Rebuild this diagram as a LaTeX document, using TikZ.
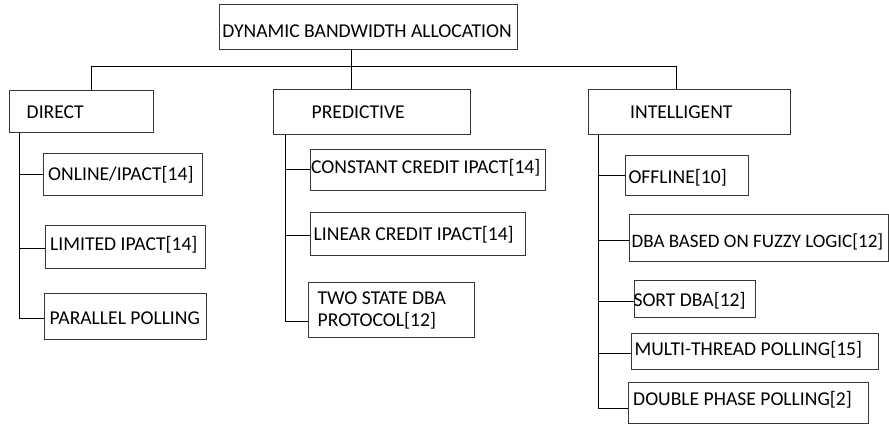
\documentclass[tikz,border=0pt]{standalone}
\usepackage{fontspec}
\setmainfont{Carlito}
\begin{document}
\begin{tikzpicture}[x=1pt,y=-1pt,
  box/.style={draw=black!78, line width=1pt, rectangle, inner sep=0pt},
  lbl/.style={anchor=base west, inner sep=0pt, text=black,
    font=\fontsize{19.6}{22.7}\selectfont, align=left},
  link/.style={draw=black, line width=1pt}]
\useasboundingbox (0,0) rectangle (889,425);

% boxes: \boxat{name}{x1}{y1}{x2}{y2}
\newcommand\boxat[5]{%
  \node[box, minimum width={#4-#2}, minimum height={#5-#3}]
    (#1) at ({(#2+#4)/2},{(#3+#5)/2}) {};}

\boxat{root}{219.3}{4.7}{517.7}{49.7}
\boxat{direct}{9.3}{90.3}{153.3}{132.7}
\boxat{pred}{273.7}{89.3}{470.7}{135}
\boxat{intel}{588.3}{89.3}{790.3}{135}

\boxat{online}{43.3}{153.3}{202.7}{195.7}
\boxat{limited}{45.7}{225.3}{205.3}{268}
\boxat{parallel}{44.3}{293.3}{206.3}{339}

\boxat{constant}{310}{150}{545.3}{190.7}
\boxat{linear}{310}{212.3}{525}{255.7}
\boxat{twostate}{308.7}{282.3}{474}{337.7}

\boxat{offline}{625.7}{155.7}{748}{195.7}
\boxat{fuzzy}{629.3}{214.3}{888}{261.7}
\boxat{sortdba}{634}{280}{755.3}{317.7}
\boxat{multi}{631.7}{333.3}{878.3}{369.3}
\boxat{double}{628.3}{382.7}{868.3}{423.3}

% labels
\node[lbl] (troot) at (222.2,37.3) {DYNAMIC BANDWIDTH ALLOCATION};
\node[lbl] (tdirect) at (26.5,119) {DIRECT};
\node[lbl] (tpred) at (311.5,119) {PREDICTIVE};
\node[lbl] (tintel) at (630,118.3) {INTELLIGENT};

\node[lbl] (tonline) at (48,181) {ONLINE/IPACT[14]};
\node[lbl] (tlimited) at (50,250) {LIMITED IPACT[14]};
\node[lbl] (tparallel) at (49.5,324.3) {PARALLEL POLLING};

\node[lbl] (tconstant) at (311,174) {CONSTANT CREDIT IPACT[14]};
\node[lbl] (tlinear) at (313.5,240) {LINEAR CREDIT IPACT[14]};
% a multi-line node sits on the baseline of its last line
\node[lbl] (ttwostate) at (317.5,326.7) {TWO STATE DBA\\PROTOCOL[12]};

\node[lbl] (toffline) at (628.3,183.3) {OFFLINE[10]};
\node[lbl, font=\fontsize{19}{22.7}\selectfont] (tfuzzy) at (631.5,247.3) {DBA BASED ON FUZZY LOGIC[12]};
\node[lbl] (tsort) at (633.3,306.7) {SORT DBA[12]};
\node[lbl] (tmulti) at (634.3,355) {MULTI-THREAD POLLING[15]};
\node[lbl] (tdouble) at (633,405) {DOUBLE PHASE POLLING[2]};

% top-level bus
\coordinate (stem) at (351,66.7);
\coordinate (busL) at (91.7,66.7);
\coordinate (busR) at (676.7,66.7);
\draw[link] (root.south -| stem) -- (stem |- pred.north);
\draw[link] (busL |- direct.north) -- (busL) -- (busR) -- (busR |- intel.north);

% spines
\coordinate (dsp) at (19.3,0);
\coordinate (psp) at (285,0);
\coordinate (isp) at (598.3,0);

\draw[link] (direct.south -| dsp) -- ([yshift=-2pt]dsp |- parallel.west) -- ([yshift=-2pt]parallel.west);
\draw[link] (dsp |- online.west) -- (online.west);
\draw[link] ([yshift=-2pt]dsp |- limited.west) -- ([yshift=-2pt]limited.west);

\draw[link] (pred.south -| psp) -- ([yshift=-11pt]psp |- twostate.west) -- ([yshift=-11pt]twostate.west);
\draw[link] ([yshift=1pt]psp |- constant.west) -- ([yshift=1pt]constant.west);
\draw[link] ([yshift=-1pt]psp |- linear.west) -- ([yshift=-1pt]linear.west);

\draw[link] (intel.south -| isp) -- ([yshift=-5.3pt]isp |- double.west) -- ([yshift=-5.3pt]double.west);
\draw[link] (isp |- offline.west) -- (offline.west);
\draw[link] ([yshift=-2.7pt]isp |- fuzzy.west) -- ([yshift=-2.7pt]fuzzy.west);
\draw[link] ([yshift=-2.9pt]isp |- sortdba.west) -- ([yshift=-2.9pt]sortdba.west);
\draw[link] ([yshift=-2pt]isp |- multi.west) -- ([yshift=-2pt]multi.west);
\end{tikzpicture}
\end{document}
